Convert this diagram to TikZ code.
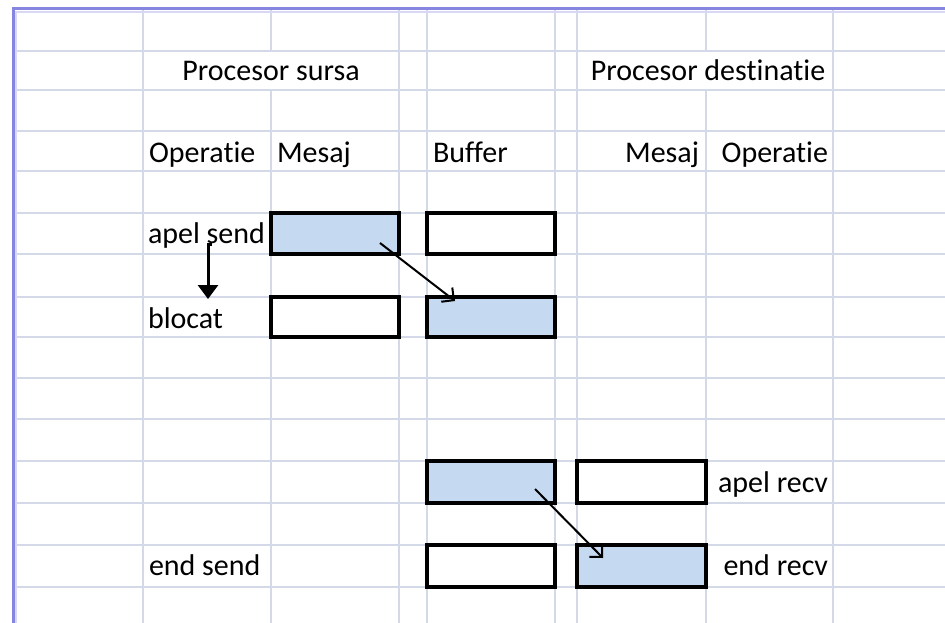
\documentclass[tikz,border=0pt]{standalone}
\usepackage{fontspec}
\setmainfont{Carlito}[RawFeature={-liga;-clig;-dlig}]
\usetikzlibrary{arrows.meta,fit}

\definecolor{gridc}{RGB}{212,217,232}
\definecolor{sheetedge}{RGB}{134,134,224}
\definecolor{sheetedgein}{RGB}{216,216,244}
\definecolor{cellblue}{RGB}{197,217,241}

\tikzset{
  gridline/.style={draw=gridc, line width=1.6},
  cellbox/.style={draw=black, line width=3.5, inner sep=0, outer sep=0},
  bluebox/.style={cellbox, fill=cellblue},
  whitebox/.style={cellbox, fill=white},
  lbl/.style={inner sep=0, outer sep=0, text=black},
  flowarrow/.style={draw=black, line width=3, -{Triangle[width=20pt,length=14pt]}},
  msgarrow/.style={draw=black, line width=2, -{Straight Barb[width=18pt,length=9pt]}},
}

\begin{document}
\begin{tikzpicture}[x=1pt, y=-1pt, font=\fontsize{30}{36}\selectfont]
  \useasboundingbox (0,0) rectangle (945,623);
  \fill[white] (0,0) rectangle (945,623);

  % worksheet grid
  \foreach \y in {51,90,131,171,213,254,297,337,378,419,461,503,545,587}
    \draw[gridline] (13,\y) -- (945,\y);
  \foreach \x in {143,399,427,555,577,833}
    \draw[gridline] (\x,9) -- (\x,623);
  % columns whose line is hidden by the overflowing header text
  \foreach \x in {271,706} {
    \draw[gridline] (\x,9) -- (\x,51);
    \draw[gridline] (\x,90) -- (\x,623);
  }

  % sheet frame (top and left)
  \draw[sheetedgein, line width=1.5] (15.8,623) -- (15.8,11.8) -- (945,11.8);
  \draw[sheetedge, line width=3] (13,623) -- (13,9) -- (945,9);

  % message cells
  \node[bluebox,  fit={(271,213) (399,254)}] (srcA) {};
  \node[whitebox, fit={(427,213) (555,254)}] (bufA) {};
  \node[whitebox, fit={(271,297) (399,337)}] (srcB) {};
  \node[bluebox,  fit={(427,297) (555,337)}] (bufB) {};
  \node[bluebox,  fit={(427,461) (555,503)}] (bufC) {};
  \node[whitebox, fit={(577,461) (706,503)}] (dstC) {};
  \node[whitebox, fit={(427,545) (555,587)}] (bufD) {};
  \node[bluebox,  fit={(577,545) (706,587)}] (dstD) {};

  % headers
  \node[lbl, anchor=base] (hsrc) at (271,81) {Procesor sursa};
  \node[lbl, anchor=base] (hdst) at (708,81) {Procesor destinatie};
  \node[lbl, anchor=base west] (opL)  at (149,163) {Operatie};
  \node[lbl, anchor=base west] (msL)  at (277,163) {Mesaj};
  \node[lbl, anchor=base west] (bufH) at (433,163) {Buffer};
  \node[lbl, anchor=base east] (msR)  at (699,163) {Mesaj};
  \node[lbl, anchor=base east] (opR)  at (828,163) {Operatie};

  % operations
  \node[lbl, anchor=base west] (sendA) at (148,243) {apel send};
  \node[lbl, anchor=base west] (block) at (148,328) {blocat};
  \node[lbl, anchor=base east] (recvA) at (828,492) {apel recv};
  \node[lbl, anchor=base west] (sendE) at (149,575) {end send};
  \node[lbl, anchor=base east] (recvE) at (828,575) {end recv};

  % arrow ends
  \coordinate (blkTop)  at (212,244);
  \coordinate (blkBend) at (208,244);
  \coordinate (blkTip)  at (208,299);
  \coordinate (m1from) at (380,243);
  \coordinate (m1to)   at (455,301);
  \coordinate (m2from) at (535,489);
  \coordinate (m2to)   at (603,558);

  % send blocks until the message is copied
  \draw[flowarrow] (blkTop) -- (blkBend) -- (blkTip);
  % message copied into the buffer, then delivered
  \draw[msgarrow] (m1from) -- (m1to);
  \draw[msgarrow] (m2from) -- (m2to);
\end{tikzpicture}
\end{document}
